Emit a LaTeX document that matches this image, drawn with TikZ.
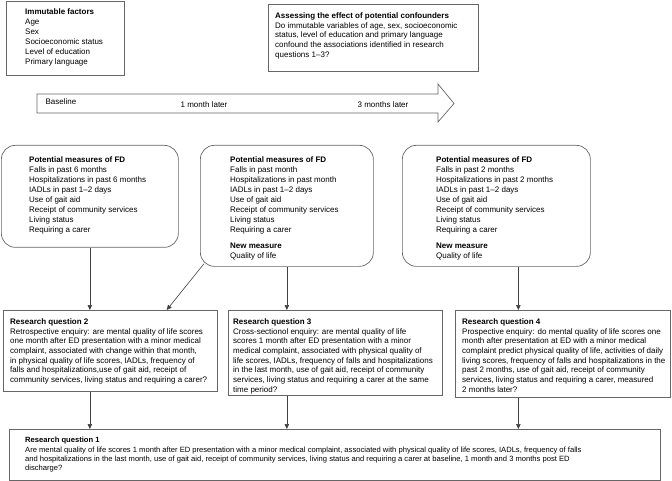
\documentclass[tikz,border=0pt]{standalone}
\usepackage{fontspec}
\setmainfont{Liberation Sans}
\usetikzlibrary{calc}
\usetikzlibrary{arrows.meta}
\usetikzlibrary{positioning}

\begin{document}
\begin{tikzpicture}[x=1pt, y=-1pt,
        box/.style={draw=black!60, line width=0.7pt, anchor=north west, inner sep=0pt},
        fdbox/.style={box, rounded corners=14pt},
        txt/.style={anchor=north west, align=left, inner sep=0pt, font=\fontsize{8}{10}\selectfont},
        rqtxt/.style={txt, font=\fontsize{8}{9.7}\selectfont},
        link/.style={-{Triangle[length=5pt, width=4.5pt]}, draw=black!75, line width=0.6pt}]
    \useasboundingbox (0,0) rectangle (672,481);

    % Top row: immutable factors and confounders
    \node[box, minimum width=118, minimum height=74] (immut) at (6,1) {};
    \node[txt] (immuttxt) at ([shift={(19,8)}]immut.north west)
        {\textbf{Immutable factors}\\Age\\Sex\\Socioeconomic status\\Level of education\\Primary language};

    \node[box, minimum width=210, minimum height=67] (confound) at (268,4) {};
    \node[rqtxt] (confoundtxt) at ([shift={(7,8.5)}]confound.north west)
        {\textbf{Assessing the effect of potential confounders}\\Do immutable variables of age, sex, socioeconomic\\status, level of education and primary language\\confound the associations identified in research\\questions 1--3?};

    % Time line
    \draw[draw=black!60, line width=0.7pt, fill=white]
        (37,94) -- (438,94) -- (438,84) -- (454,103.5) -- (438,122) -- (438,113) -- (37,113) -- cycle;
    \node[anchor=west, font=\fontsize{8}{10}\selectfont] (t0) at (42,102) {Baseline};
    \node[font=\fontsize{8}{10}\selectfont] (t1) at (204,105) {1 month later};
    \node[font=\fontsize{8}{10}\selectfont] (t3) at (383,105) {3 months later};

    % Measures of FD at each time point
    \node[fdbox, minimum width=177, minimum height=102] (fd1) at (1,145) {};
    \node[txt] (fd1txt) at ([shift={(28,12)}]fd1.north west)
        {\textbf{Potential measures of FD}\\Falls in past 6 months\\Hospitalizations in past 6 months\\IADLs in past 1--2 days\\Use of gait aid\\Receipt of community services\\Living status\\Requiring a carer};

    \node[fdbox, minimum width=173, minimum height=121] (fd2) at (200,145) {};
    \node[txt] (fd2txt) at ([shift={(30,12)}]fd2.north west)
        {\textbf{Potential measures of FD}\\Falls in past month\\Hospitalizations in past month\\IADLs in past 1--2 days\\Use of gait aid\\Receipt of community services\\Living status\\Requiring a carer\\[6pt]\textbf{New measure}\\Quality of life};

    \node[fdbox, minimum width=188, minimum height=121] (fd3) at (402,145) {};
    \node[txt] (fd3txt) at ([shift={(34,12)}]fd3.north west)
        {\textbf{Potential measures of FD}\\Falls in past 2 months\\Hospitalizations in past 2 months\\IADLs in past 1--2 days\\Use of gait aid\\Receipt of community services\\Living status\\Requiring a carer\\[6pt]\textbf{New measure}\\Quality of life};

    % Research questions 2--4
    \node[box, minimum width=214, minimum height=81] (rq2) at (3,310) {};
    \node[rqtxt] (rq2txt) at ([shift={(7,8.5)}]rq2.north west)
        {\textbf{Research question 2}\\Retrospective enquiry: are mental quality of life scores\\one month after ED presentation with a minor medical\\complaint, associated with change within that month,\\in physical quality of life scores, IADLs, frequency of\\falls and hospitalizations,use of gait aid, receipt of\\community services, living status and requiring a carer?};

    \node[box, minimum width=214, minimum height=85] (rq3) at (228,310) {};
    \node[rqtxt] (rq3txt) at ([shift={(5,8.5)}]rq3.north west)
        {\textbf{Research question 3}\\Cross-sectionol enquiry: are mental quality of life\\scores 1 month after ED presentation with a minor\\medical complaint, associated with physical quality of\\life scores, IADLs, frequency of falls and hospitalizations\\in the last month, use of gait aid, receipt of community\\services, living status and requiring a carer at the same\\time period?};

    \node[box, minimum width=215, minimum height=87] (rq4) at (455,310) {};
    \node[rqtxt] (rq4txt) at ([shift={(7,8.5)}]rq4.north west)
        {\textbf{Research question 4}\\Prospective enquiry: do mental quality of life scores one\\month after presentation at ED with a minor medical\\complaint predict physical quality of life, activities of daily\\living scores, frequency of falls and hospitalizations in the\\past 2 months, use of gait aid, receipt of community\\services, living status and requiring a carer, measured\\2 months later?};

    % Research question 1
    \node[box, minimum width=651, minimum height=51] (rq1) at (9,429) {};
    \node[txt, font=\fontsize{7.6}{9.4}\selectfont] (rq1txt) at ([shift={(16,8)}]rq1.north west)
        {\textbf{Research question 1}\\Are mental quality of life scores 1 month after ED presentation with a minor medical complaint, associated with physical quality of life scores, IADLs, frequency of falls\\and hospitalizations in the last month, use of gait aid, receipt of community services, living status and requiring a carer at baseline, 1 month and 3 months post ED\\discharge?};

    % Connectors
    \coordinate (c3) at ([xshift=22]fd3.south);
    \draw[link] (fd1.south) -- (fd1.south |- rq2.north);
    \draw[link] ([shift={(4,-3)}]fd2.south west) -- ([xshift=-51]rq2.north east);
    \draw[link] (fd2.south) -- (fd2.south |- rq3.north);
    \draw[link] (c3) -- (c3 |- rq4.north);
    \draw[link] (fd1.south |- rq2.south) -- (fd1.south |- rq1.north);
    \draw[link] (fd2.south |- rq3.south) -- (fd2.south |- rq1.north);
    \draw[link] (c3 |- rq4.south) -- (c3 |- rq1.north);
\end{tikzpicture}
\end{document}
